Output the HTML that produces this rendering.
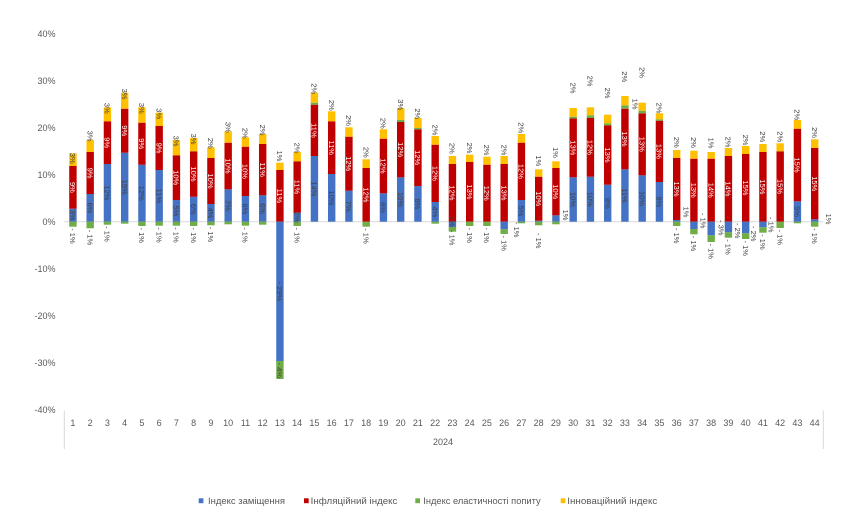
<!DOCTYPE html>
<html><head><meta charset="utf-8"><style>
html,body{margin:0;padding:0;background:#fff;}
svg{display:block;font-family:"Liberation Sans",Arial,sans-serif;}
.b{fill:#4472C4}.r{fill:#C00000}.g{fill:#70AD47}.y{fill:#FFC000}
.ax{font-size:9px;fill:#595959}
.l{font-size:7.5px;fill:#404040}
.w{font-size:7.5px;fill:#fff}
</style></head><body>
<svg width="850" height="517" viewBox="0 0 850 517" xmlns="http://www.w3.org/2000/svg">
<rect width="850" height="517" fill="#fff"/>
<!-- y axis labels -->
<g class="ax" text-anchor="end">
<text x="55.5" y="36.9">40%</text>
<text x="55.5" y="84">30%</text>
<text x="55.5" y="131">20%</text>
<text x="55.5" y="178.1">10%</text>
<text x="55.5" y="224.9">0%</text>
<text x="55.5" y="272">-10%</text>
<text x="55.5" y="319">-20%</text>
<text x="55.5" y="366.1">-30%</text>
<text x="55.5" y="413.2">-40%</text>
</g>
<line x1="64.3" y1="221.7" x2="823.3" y2="221.7" stroke="#D9D9D9" stroke-width="1"/>
<line x1="64.3" y1="410.7" x2="64.3" y2="449" stroke="#D9D9D9" stroke-width="1"/>
<line x1="823.3" y1="410.7" x2="823.3" y2="449" stroke="#D9D9D9" stroke-width="1"/>

<!-- bars -->
<g transform="translate(72.93,0)"><rect class="b" x="-3.7" y="208.7" width="7.4" height="13"/><rect class="r" x="-3.7" y="166" width="7.4" height="42.7"/><rect class="y" x="-3.7" y="153.3" width="7.4" height="12.7"/><rect class="g" x="-3.7" y="221.7" width="7.4" height="5"/>
<text class="l" transform="translate(0,215.2) rotate(90)" text-anchor="middle" dy="2.7">3%</text><text class="w" transform="translate(0,187.4) rotate(90)" text-anchor="middle" dy="2.7">9%</text><text class="l" transform="translate(0,158.3) rotate(90)" text-anchor="middle" dy="2.7">3%</text><text class="l" transform="translate(0,228.2) rotate(90)" dy="2.7">- 1%</text></g>

<g transform="translate(90.18,0)"><rect class="b" x="-3.7" y="194" width="7.4" height="27.7"/><rect class="r" x="-3.7" y="152" width="7.4" height="42"/><rect class="y" x="-3.7" y="140" width="7.4" height="12"/><rect class="g" x="-3.7" y="221.7" width="7.4" height="6.6"/>
<text class="l" transform="translate(0,207.9) rotate(90)" text-anchor="middle" dy="2.7">6%</text><text class="w" transform="translate(0,173) rotate(90)" text-anchor="middle" dy="2.7">9%</text><text class="l" transform="translate(0,136) rotate(90)" text-anchor="middle" dy="2.7">3%</text><text class="l" transform="translate(0,229.8) rotate(90)" dy="2.7">- 1%</text></g>

<g transform="translate(107.43,0)"><rect class="b" x="-3.7" y="164" width="7.4" height="57.7"/><rect class="r" x="-3.7" y="121.3" width="7.4" height="42.7"/><rect class="y" x="-3.7" y="107.3" width="7.4" height="14"/><rect class="g" x="-3.7" y="221.7" width="7.4" height="3"/>
<text class="l" transform="translate(0,192.9) rotate(90)" text-anchor="middle" dy="2.7">12%</text><text class="w" transform="translate(0,142.7) rotate(90)" text-anchor="middle" dy="2.7">9%</text><text class="l" transform="translate(0,108.3) rotate(90)" text-anchor="middle" dy="2.7">3%</text><text class="l" transform="translate(0,226.2) rotate(90)" dy="2.7">- 1%</text></g>

<g transform="translate(124.68,0)"><rect class="b" x="-3.7" y="152.7" width="7.4" height="69"/><rect class="r" x="-3.7" y="108.7" width="7.4" height="44"/><rect class="y" x="-3.7" y="92.7" width="7.4" height="16"/><rect class="g" x="-3.7" y="221.7" width="7.4" height="2"/>
<text class="l" transform="translate(0,187.2) rotate(90)" text-anchor="middle" dy="2.7">15%</text><text class="w" transform="translate(0,130.7) rotate(90)" text-anchor="middle" dy="2.7">9%</text><text class="l" transform="translate(0,94) rotate(90)" text-anchor="middle" dy="2.7">3%</text></g>

<g transform="translate(141.93,0)"><rect class="b" x="-3.7" y="164.7" width="7.4" height="57"/><rect class="r" x="-3.7" y="122.7" width="7.4" height="42"/><rect class="y" x="-3.7" y="107.3" width="7.4" height="15.4"/><rect class="g" x="-3.7" y="221.7" width="7.4" height="4.3"/>
<text class="l" transform="translate(0,193.2) rotate(90)" text-anchor="middle" dy="2.7">12%</text><text class="w" transform="translate(0,143.7) rotate(90)" text-anchor="middle" dy="2.7">9%</text><text class="l" transform="translate(0,108.3) rotate(90)" text-anchor="middle" dy="2.7">3%</text><text class="l" transform="translate(0,227.5) rotate(90)" dy="2.7">- 1%</text></g>

<g transform="translate(159.18,0)"><rect class="b" x="-3.7" y="170" width="7.4" height="51.7"/><rect class="r" x="-3.7" y="126" width="7.4" height="44"/><rect class="y" x="-3.7" y="112.7" width="7.4" height="13.3"/><rect class="g" x="-3.7" y="221.7" width="7.4" height="4"/>
<text class="l" transform="translate(0,195.9) rotate(90)" text-anchor="middle" dy="2.7">11%</text><text class="w" transform="translate(0,148) rotate(90)" text-anchor="middle" dy="2.7">9%</text><text class="l" transform="translate(0,113.7) rotate(90)" text-anchor="middle" dy="2.7">3%</text><text class="l" transform="translate(0,227.2) rotate(90)" dy="2.7">- 1%</text></g>

<g transform="translate(176.43,0)"><rect class="b" x="-3.7" y="200" width="7.4" height="21.7"/><rect class="r" x="-3.7" y="155.3" width="7.4" height="44.7"/><rect class="y" x="-3.7" y="140" width="7.4" height="15.3"/><rect class="g" x="-3.7" y="221.7" width="7.4" height="4"/>
<text class="l" transform="translate(0,210.9) rotate(90)" text-anchor="middle" dy="2.7">5%</text><text class="w" transform="translate(0,177.7) rotate(90)" text-anchor="middle" dy="2.7">10%</text><text class="l" transform="translate(0,141) rotate(90)" text-anchor="middle" dy="2.7">3%</text><text class="l" transform="translate(0,227.2) rotate(90)" dy="2.7">- 1%</text></g>

<g transform="translate(193.68,0)"><rect class="b" x="-3.7" y="196.7" width="7.4" height="25"/><rect class="r" x="-3.7" y="151.3" width="7.4" height="45.4"/><rect class="y" x="-3.7" y="138" width="7.4" height="13.3"/><rect class="g" x="-3.7" y="221.7" width="7.4" height="4.3"/>
<text class="l" transform="translate(0,209.2) rotate(90)" text-anchor="middle" dy="2.7">6%</text><text class="w" transform="translate(0,174) rotate(90)" text-anchor="middle" dy="2.7">10%</text><text class="l" transform="translate(0,139) rotate(90)" text-anchor="middle" dy="2.7">3%</text><text class="l" transform="translate(0,227.5) rotate(90)" dy="2.7">- 1%</text></g>

<g transform="translate(210.93,0)"><rect class="b" x="-3.7" y="204" width="7.4" height="17.7"/><rect class="r" x="-3.7" y="158" width="7.4" height="46"/><rect class="y" x="-3.7" y="147.3" width="7.4" height="10.7"/><rect class="g" x="-3.7" y="221.7" width="7.4" height="3.6"/>
<text class="l" transform="translate(0,212.9) rotate(90)" text-anchor="middle" dy="2.7">4%</text><text class="w" transform="translate(0,181) rotate(90)" text-anchor="middle" dy="2.7">10%</text><text class="l" transform="translate(0,143.3) rotate(90)" text-anchor="middle" dy="2.7">2%</text><text class="l" transform="translate(0,226.8) rotate(90)" dy="2.7">- 1%</text></g>

<g transform="translate(228.18,0)"><rect class="b" x="-3.7" y="189.3" width="7.4" height="32.4"/><rect class="r" x="-3.7" y="142.7" width="7.4" height="46.6"/><rect class="y" x="-3.7" y="131.3" width="7.4" height="11.4"/><rect class="g" x="-3.7" y="221.7" width="7.4" height="2.6"/>
<text class="l" transform="translate(0,205.5) rotate(90)" text-anchor="middle" dy="2.7">7%</text><text class="w" transform="translate(0,166) rotate(90)" text-anchor="middle" dy="2.7">10%</text><text class="l" transform="translate(0,127.3) rotate(90)" text-anchor="middle" dy="2.7">3%</text></g>

<g transform="translate(245.43,0)"><rect class="b" x="-3.7" y="196" width="7.4" height="25.7"/><rect class="r" x="-3.7" y="146.7" width="7.4" height="49.3"/><rect class="y" x="-3.7" y="137.3" width="7.4" height="9.4"/><rect class="g" x="-3.7" y="221.7" width="7.4" height="4"/>
<text class="l" transform="translate(0,208.9) rotate(90)" text-anchor="middle" dy="2.7">6%</text><text class="w" transform="translate(0,171.4) rotate(90)" text-anchor="middle" dy="2.7">10%</text><text class="l" transform="translate(0,133.3) rotate(90)" text-anchor="middle" dy="2.7">2%</text><text class="l" transform="translate(0,227.2) rotate(90)" dy="2.7">- 1%</text></g>

<g transform="translate(262.68,0)"><rect class="b" x="-3.7" y="195.3" width="7.4" height="26.4"/><rect class="r" x="-3.7" y="144" width="7.4" height="51.3"/><rect class="y" x="-3.7" y="134" width="7.4" height="10"/><rect class="g" x="-3.7" y="221.7" width="7.4" height="3"/>
<text class="l" transform="translate(0,208.5) rotate(90)" text-anchor="middle" dy="2.7">6%</text><text class="w" transform="translate(0,169.7) rotate(90)" text-anchor="middle" dy="2.7">11%</text><text class="l" transform="translate(0,130) rotate(90)" text-anchor="middle" dy="2.7">2%</text></g>

<g transform="translate(279.93,0)"><rect class="r" x="-3.7" y="170" width="7.4" height="51.7"/><rect class="y" x="-3.7" y="162.7" width="7.4" height="7.3"/><rect class="b" x="-3.7" y="221.7" width="7.4" height="139.3"/><rect class="g" x="-3.7" y="361" width="7.4" height="18"/>
<text class="w" transform="translate(0,195.9) rotate(90)" text-anchor="middle" dy="2.7">11%</text><text class="l" transform="translate(0,156) rotate(90)" text-anchor="middle" dy="2.7">1%</text><text class="l" transform="translate(0,291.4) rotate(90)" text-anchor="middle" dy="2.7">- 29%</text><text class="l" transform="translate(0,362.5) rotate(90)" dy="2.7">- 4%</text></g>

<g transform="translate(297.18,0)"><rect class="b" x="-3.7" y="212.7" width="7.4" height="9"/><rect class="r" x="-3.7" y="161.3" width="7.4" height="51.4"/><rect class="y" x="-3.7" y="152" width="7.4" height="9.3"/><rect class="g" x="-3.7" y="221.7" width="7.4" height="4.3"/>
<text class="l" transform="translate(0,217.2) rotate(90)" text-anchor="middle" dy="2.7">2%</text><text class="w" transform="translate(0,187) rotate(90)" text-anchor="middle" dy="2.7">11%</text><text class="l" transform="translate(0,148) rotate(90)" text-anchor="middle" dy="2.7">2%</text><text class="l" transform="translate(0,227.5) rotate(90)" dy="2.7">- 1%</text></g>

<g transform="translate(314.43,0)"><rect class="b" x="-3.7" y="156" width="7.4" height="65.7"/><rect class="r" x="-3.7" y="104.7" width="7.4" height="51.3"/><rect class="g" x="-3.7" y="102.7" width="7.4" height="2"/><rect class="y" x="-3.7" y="92.7" width="7.4" height="10"/>
<text class="l" transform="translate(0,188.9) rotate(90)" text-anchor="middle" dy="2.7">14%</text><text class="w" transform="translate(0,130.4) rotate(90)" text-anchor="middle" dy="2.7">11%</text><text class="l" transform="translate(0,88.7) rotate(90)" text-anchor="middle" dy="2.7">2%</text></g>

<g transform="translate(331.68,0)"><rect class="b" x="-3.7" y="174" width="7.4" height="47.7"/><rect class="r" x="-3.7" y="121.3" width="7.4" height="52.7"/><rect class="y" x="-3.7" y="111.3" width="7.4" height="10"/>
<text class="l" transform="translate(0,197.9) rotate(90)" text-anchor="middle" dy="2.7">10%</text><text class="w" transform="translate(0,147.7) rotate(90)" text-anchor="middle" dy="2.7">11%</text><text class="l" transform="translate(0,105.3) rotate(90)" text-anchor="middle" dy="2.7">2%</text></g>

<g transform="translate(348.93,0)"><rect class="b" x="-3.7" y="190.7" width="7.4" height="31"/><rect class="r" x="-3.7" y="136.7" width="7.4" height="54"/><rect class="y" x="-3.7" y="127.3" width="7.4" height="9.4"/>
<text class="l" transform="translate(0,206.2) rotate(90)" text-anchor="middle" dy="2.7">7%</text><text class="w" transform="translate(0,163.7) rotate(90)" text-anchor="middle" dy="2.7">12%</text><text class="l" transform="translate(0,120.5) rotate(90)" text-anchor="middle" dy="2.7">2%</text></g>

<g transform="translate(366.18,0)"><rect class="r" x="-3.7" y="168" width="7.4" height="53.7"/><rect class="y" x="-3.7" y="159.3" width="7.4" height="8.7"/><rect class="g" x="-3.7" y="221.7" width="7.4" height="5"/>
<text class="w" transform="translate(0,194.9) rotate(90)" text-anchor="middle" dy="2.7">12%</text><text class="l" transform="translate(0,152.3) rotate(90)" text-anchor="middle" dy="2.7">2%</text><text class="l" transform="translate(0,228.2) rotate(90)" dy="2.7">- 1%</text></g>

<g transform="translate(383.43,0)"><rect class="b" x="-3.7" y="193.3" width="7.4" height="28.4"/><rect class="r" x="-3.7" y="138.7" width="7.4" height="54.6"/><rect class="y" x="-3.7" y="129.3" width="7.4" height="9.4"/>
<text class="l" transform="translate(0,207.5) rotate(90)" text-anchor="middle" dy="2.7">6%</text><text class="w" transform="translate(0,166) rotate(90)" text-anchor="middle" dy="2.7">12%</text><text class="l" transform="translate(0,123.3) rotate(90)" text-anchor="middle" dy="2.7">2%</text></g>

<g transform="translate(400.68,0)"><rect class="b" x="-3.7" y="177.3" width="7.4" height="44.4"/><rect class="r" x="-3.7" y="122" width="7.4" height="55.3"/><rect class="g" x="-3.7" y="120" width="7.4" height="2"/><rect class="y" x="-3.7" y="108" width="7.4" height="12"/>
<text class="l" transform="translate(0,199.5) rotate(90)" text-anchor="middle" dy="2.7">10%</text><text class="w" transform="translate(0,149.6) rotate(90)" text-anchor="middle" dy="2.7">12%</text><text class="l" transform="translate(0,104.7) rotate(90)" text-anchor="middle" dy="2.7">3%</text></g>

<g transform="translate(417.93,0)"><rect class="b" x="-3.7" y="186" width="7.4" height="35.7"/><rect class="r" x="-3.7" y="129.3" width="7.4" height="56.7"/><rect class="g" x="-3.7" y="128" width="7.4" height="1.3"/><rect class="y" x="-3.7" y="118" width="7.4" height="10"/>
<text class="l" transform="translate(0,203.9) rotate(90)" text-anchor="middle" dy="2.7">8%</text><text class="w" transform="translate(0,157.7) rotate(90)" text-anchor="middle" dy="2.7">12%</text><text class="l" transform="translate(0,113.8) rotate(90)" text-anchor="middle" dy="2.7">2%</text></g>

<g transform="translate(435.18,0)"><rect class="b" x="-3.7" y="202" width="7.4" height="19.7"/><rect class="r" x="-3.7" y="144.7" width="7.4" height="57.3"/><rect class="y" x="-3.7" y="136" width="7.4" height="8.7"/><rect class="g" x="-3.7" y="221.7" width="7.4" height="2"/>
<text class="l" transform="translate(0,211.9) rotate(90)" text-anchor="middle" dy="2.7">4%</text><text class="w" transform="translate(0,173.4) rotate(90)" text-anchor="middle" dy="2.7">12%</text><text class="l" transform="translate(0,130) rotate(90)" text-anchor="middle" dy="2.7">2%</text></g>

<g transform="translate(452.43,0)"><rect class="r" x="-3.7" y="164" width="7.4" height="57.7"/><rect class="y" x="-3.7" y="156" width="7.4" height="8"/><rect class="b" x="-3.7" y="221.7" width="7.4" height="5.3"/><rect class="g" x="-3.7" y="227" width="7.4" height="4.7"/>
<text class="w" transform="translate(0,192.9) rotate(90)" text-anchor="middle" dy="2.7">12%</text><text class="l" transform="translate(0,148.3) rotate(90)" text-anchor="middle" dy="2.7">2%</text><text class="l" transform="translate(0,216) rotate(90)" dy="2.7">1%</text><text class="l" transform="translate(0,230) rotate(90)" dy="2.7">- 1%</text></g>

<g transform="translate(469.68,0)"><rect class="r" x="-3.7" y="162" width="7.4" height="59.7"/><rect class="y" x="-3.7" y="154.7" width="7.4" height="7.3"/><rect class="g" x="-3.7" y="221.7" width="7.4" height="4.3"/>
<text class="w" transform="translate(0,191.9) rotate(90)" text-anchor="middle" dy="2.7">13%</text><text class="l" transform="translate(0,148) rotate(90)" text-anchor="middle" dy="2.7">2%</text><text class="l" transform="translate(0,227.5) rotate(90)" dy="2.7">- 1%</text></g>

<g transform="translate(486.93,0)"><rect class="r" x="-3.7" y="164.7" width="7.4" height="57"/><rect class="y" x="-3.7" y="156.7" width="7.4" height="8"/><rect class="g" x="-3.7" y="221.7" width="7.4" height="4.3"/>
<text class="w" transform="translate(0,193.2) rotate(90)" text-anchor="middle" dy="2.7">12%</text><text class="l" transform="translate(0,150) rotate(90)" text-anchor="middle" dy="2.7">2%</text><text class="l" transform="translate(0,227.5) rotate(90)" dy="2.7">- 1%</text></g>

<g transform="translate(504.18,0)"><rect class="r" x="-3.7" y="164" width="7.4" height="57.7"/><rect class="y" x="-3.7" y="156" width="7.4" height="8"/><rect class="b" x="-3.7" y="221.7" width="7.4" height="7.6"/><rect class="g" x="-3.7" y="229.3" width="7.4" height="4.7"/>
<text class="w" transform="translate(0,192.9) rotate(90)" text-anchor="middle" dy="2.7">13%</text><text class="l" transform="translate(0,150) rotate(90)" text-anchor="middle" dy="2.7">2%</text><text class="l" transform="translate(0,235.5) rotate(90)" dy="2.7">- 1%</text></g>

<g transform="translate(521.43,0)"><rect class="b" x="-3.7" y="200" width="7.4" height="21.7"/><rect class="r" x="-3.7" y="142.7" width="7.4" height="57.3"/><rect class="y" x="-3.7" y="134" width="7.4" height="8.7"/><rect class="g" x="-3.7" y="221.7" width="7.4" height="1.6"/>
<text class="l" transform="translate(0,210.9) rotate(90)" text-anchor="middle" dy="2.7">5%</text><text class="w" transform="translate(0,171.4) rotate(90)" text-anchor="middle" dy="2.7">12%</text><text class="l" transform="translate(0,127.7) rotate(90)" text-anchor="middle" dy="2.7">2%</text><text class="l" transform="translate(-4.5,222) rotate(90)" dy="2.7">- 1%</text></g>

<g transform="translate(538.68,0)"><rect class="b" x="-3.7" y="220.7" width="7.4" height="1"/><rect class="r" x="-3.7" y="176.7" width="7.4" height="44"/><rect class="y" x="-3.7" y="169.3" width="7.4" height="7.4"/><rect class="g" x="-3.7" y="221.7" width="7.4" height="3.6"/>
<text class="w" transform="translate(0,198.7) rotate(90)" text-anchor="middle" dy="2.7">10%</text><text class="l" transform="translate(0,160.8) rotate(90)" text-anchor="middle" dy="2.7">1%</text><text class="l" transform="translate(0,233) rotate(90)" dy="2.7">- 1%</text></g>

<g transform="translate(555.93,0)"><rect class="b" x="-3.7" y="215.3" width="7.4" height="6.4"/><rect class="r" x="-3.7" y="168" width="7.4" height="47.3"/><rect class="y" x="-3.7" y="161.3" width="7.4" height="6.7"/><rect class="g" x="-3.7" y="221.7" width="7.4" height="2.6"/>
<text class="w" transform="translate(0,191.7) rotate(90)" text-anchor="middle" dy="2.7">10%</text><text class="l" transform="translate(0,152.5) rotate(90)" text-anchor="middle" dy="2.7">1%</text><text class="l" transform="translate(9.6,215) rotate(90)" text-anchor="middle" dy="2.7">1%</text></g>

<g transform="translate(573.18,0)"><rect class="b" x="-3.7" y="177.3" width="7.4" height="44.4"/><rect class="r" x="-3.7" y="118.3" width="7.4" height="59"/><rect class="g" x="-3.7" y="116.7" width="7.4" height="1.6"/><rect class="y" x="-3.7" y="108" width="7.4" height="8.7"/>
<text class="l" transform="translate(0,199.5) rotate(90)" text-anchor="middle" dy="2.7">10%</text><text class="w" transform="translate(0,147.8) rotate(90)" text-anchor="middle" dy="2.7">13%</text><text class="l" transform="translate(0,88) rotate(90)" text-anchor="middle" dy="2.7">2%</text></g>

<g transform="translate(590.43,0)"><rect class="b" x="-3.7" y="176.7" width="7.4" height="45"/><rect class="r" x="-3.7" y="118" width="7.4" height="58.7"/><rect class="g" x="-3.7" y="115.3" width="7.4" height="2.7"/><rect class="y" x="-3.7" y="107.3" width="7.4" height="8"/>
<text class="l" transform="translate(0,199.2) rotate(90)" text-anchor="middle" dy="2.7">10%</text><text class="w" transform="translate(0,147.4) rotate(90)" text-anchor="middle" dy="2.7">12%</text><text class="l" transform="translate(0,81) rotate(90)" text-anchor="middle" dy="2.7">2%</text></g>

<g transform="translate(607.68,0)"><rect class="b" x="-3.7" y="184.7" width="7.4" height="37"/><rect class="r" x="-3.7" y="125.3" width="7.4" height="59.4"/><rect class="g" x="-3.7" y="123.3" width="7.4" height="2"/><rect class="y" x="-3.7" y="114.7" width="7.4" height="8.6"/>
<text class="l" transform="translate(0,203.2) rotate(90)" text-anchor="middle" dy="2.7">8%</text><text class="w" transform="translate(0,155) rotate(90)" text-anchor="middle" dy="2.7">13%</text><text class="l" transform="translate(0,93) rotate(90)" text-anchor="middle" dy="2.7">2%</text></g>

<g transform="translate(624.93,0)"><rect class="b" x="-3.7" y="169.3" width="7.4" height="52.4"/><rect class="r" x="-3.7" y="108.7" width="7.4" height="60.6"/><rect class="g" x="-3.7" y="105.3" width="7.4" height="3.4"/><rect class="y" x="-3.7" y="96" width="7.4" height="9.3"/>
<text class="l" transform="translate(0,195.5) rotate(90)" text-anchor="middle" dy="2.7">11%</text><text class="w" transform="translate(0,139) rotate(90)" text-anchor="middle" dy="2.7">13%</text><text class="l" transform="translate(0,76.7) rotate(90)" text-anchor="middle" dy="2.7">2%</text></g>

<g transform="translate(642.18,0)"><rect class="b" x="-3.7" y="175.3" width="7.4" height="46.4"/><rect class="r" x="-3.7" y="113.3" width="7.4" height="62"/><rect class="g" x="-3.7" y="110.7" width="7.4" height="2.6"/><rect class="y" x="-3.7" y="102.7" width="7.4" height="8"/>
<text class="l" transform="translate(0,198.5) rotate(90)" text-anchor="middle" dy="2.7">10%</text><text class="w" transform="translate(0,144.3) rotate(90)" text-anchor="middle" dy="2.7">13%</text><text class="l" transform="translate(0,72.5) rotate(90)" text-anchor="middle" dy="2.7">2%</text><text class="l" transform="translate(-7,104) rotate(90)" text-anchor="middle" dy="2.7">1%</text></g>

<g transform="translate(659.43,0)"><rect class="b" x="-3.7" y="182" width="7.4" height="39.7"/><rect class="r" x="-3.7" y="120.7" width="7.4" height="61.3"/><rect class="g" x="-3.7" y="119.3" width="7.4" height="1.4"/><rect class="y" x="-3.7" y="113.3" width="7.4" height="6"/>
<text class="l" transform="translate(0,201.9) rotate(90)" text-anchor="middle" dy="2.7">8%</text><text class="w" transform="translate(0,151.4) rotate(90)" text-anchor="middle" dy="2.7">13%</text><text class="l" transform="translate(0,108) rotate(90)" text-anchor="middle" dy="2.7">2%</text></g>

<g transform="translate(676.68,0)"><rect class="b" x="-3.7" y="220" width="7.4" height="1.7"/><rect class="r" x="-3.7" y="158" width="7.4" height="62"/><rect class="y" x="-3.7" y="150" width="7.4" height="8"/><rect class="g" x="-3.7" y="221.7" width="7.4" height="4.3"/>
<text class="w" transform="translate(0,189) rotate(90)" text-anchor="middle" dy="2.7">13%</text><text class="l" transform="translate(0,142.3) rotate(90)" text-anchor="middle" dy="2.7">2%</text><text class="l" transform="translate(0,228) rotate(90)" dy="2.7">- 1%</text><text class="l" transform="translate(9.5,212) rotate(90)" text-anchor="middle" dy="2.7">1%</text></g>

<g transform="translate(693.93,0)"><rect class="r" x="-3.7" y="158.7" width="7.4" height="63"/><rect class="y" x="-3.7" y="150.7" width="7.4" height="8"/><rect class="b" x="-3.7" y="221.7" width="7.4" height="7.3"/><rect class="g" x="-3.7" y="229" width="7.4" height="5.3"/>
<text class="w" transform="translate(0,190.2) rotate(90)" text-anchor="middle" dy="2.7">13%</text><text class="l" transform="translate(0,142.5) rotate(90)" text-anchor="middle" dy="2.7">2%</text><text class="l" transform="translate(0,235.8) rotate(90)" dy="2.7">- 1%</text></g>

<g transform="translate(711.18,0)"><rect class="r" x="-3.7" y="158.7" width="7.4" height="63"/><rect class="y" x="-3.7" y="152" width="7.4" height="6.7"/><rect class="b" x="-3.7" y="221.7" width="7.4" height="13.6"/><rect class="g" x="-3.7" y="235.3" width="7.4" height="6.7"/>
<text class="w" transform="translate(0,190.2) rotate(90)" text-anchor="middle" dy="2.7">14%</text><text class="l" transform="translate(0,143) rotate(90)" text-anchor="middle" dy="2.7">1%</text><text class="l" transform="translate(0,243.5) rotate(90)" dy="2.7">- 1%</text><text class="l" transform="translate(-8,213) rotate(90)" dy="2.7">- 1%</text></g>

<g transform="translate(728.43,0)"><rect class="r" x="-3.7" y="156" width="7.4" height="65.7"/><rect class="y" x="-3.7" y="148" width="7.4" height="8"/><rect class="b" x="-3.7" y="221.7" width="7.4" height="10.6"/><rect class="g" x="-3.7" y="232.3" width="7.4" height="5.4"/>
<text class="w" transform="translate(0,188.9) rotate(90)" text-anchor="middle" dy="2.7">14%</text><text class="l" transform="translate(0,142) rotate(90)" text-anchor="middle" dy="2.7">2%</text><text class="l" transform="translate(0,239.2) rotate(90)" dy="2.7">- 1%</text><text class="l" transform="translate(-7,220) rotate(90)" dy="2.7">- 3%</text></g>

<g transform="translate(745.68,0)"><rect class="r" x="-3.7" y="154" width="7.4" height="67.7"/><rect class="y" x="-3.7" y="146" width="7.4" height="8"/><rect class="b" x="-3.7" y="221.7" width="7.4" height="11.6"/><rect class="g" x="-3.7" y="233.3" width="7.4" height="5.7"/>
<text class="w" transform="translate(0,187.9) rotate(90)" text-anchor="middle" dy="2.7">15%</text><text class="l" transform="translate(0,140) rotate(90)" text-anchor="middle" dy="2.7">2%</text><text class="l" transform="translate(0,240.5) rotate(90)" dy="2.7">- 1%</text><text class="l" transform="translate(-8,223) rotate(90)" dy="2.7">- 2%</text></g>

<g transform="translate(762.93,0)"><rect class="r" x="-3.7" y="152" width="7.4" height="69.7"/><rect class="y" x="-3.7" y="144" width="7.4" height="8"/><rect class="b" x="-3.7" y="221.7" width="7.4" height="5.6"/><rect class="g" x="-3.7" y="227.3" width="7.4" height="5.4"/>
<text class="w" transform="translate(0,186.9) rotate(90)" text-anchor="middle" dy="2.7">15%</text><text class="l" transform="translate(0,136.7) rotate(90)" text-anchor="middle" dy="2.7">2%</text><text class="l" transform="translate(0,234.2) rotate(90)" dy="2.7">- 1%</text><text class="l" transform="translate(-9,226) rotate(90)" dy="2.7">- 2%</text></g>

<g transform="translate(780.18,0)"><rect class="r" x="-3.7" y="151.3" width="7.4" height="70.4"/><rect class="y" x="-3.7" y="143.3" width="7.4" height="8"/><rect class="g" x="-3.7" y="221.7" width="7.4" height="6.3"/>
<text class="w" transform="translate(0,186.5) rotate(90)" text-anchor="middle" dy="2.7">15%</text><text class="l" transform="translate(0,136.7) rotate(90)" text-anchor="middle" dy="2.7">2%</text><text class="l" transform="translate(0,229.5) rotate(90)" dy="2.7">- 1%</text><text class="l" transform="translate(-9,217) rotate(90)" dy="2.7">- 1%</text></g>

<g transform="translate(797.43,0)"><rect class="b" x="-3.7" y="201.3" width="7.4" height="20.4"/><rect class="r" x="-3.7" y="128.7" width="7.4" height="72.6"/><rect class="y" x="-3.7" y="120" width="7.4" height="8.7"/><rect class="g" x="-3.7" y="221.7" width="7.4" height="1.6"/>
<text class="l" transform="translate(0,211.5) rotate(90)" text-anchor="middle" dy="2.7">5%</text><text class="w" transform="translate(0,165) rotate(90)" text-anchor="middle" dy="2.7">15%</text><text class="l" transform="translate(0,114.7) rotate(90)" text-anchor="middle" dy="2.7">2%</text></g>

<g transform="translate(814.68,0)"><rect class="b" x="-3.7" y="219.3" width="7.4" height="2.4"/><rect class="r" x="-3.7" y="148" width="7.4" height="71.3"/><rect class="y" x="-3.7" y="139.3" width="7.4" height="8.7"/><rect class="g" x="-3.7" y="221.7" width="7.4" height="5"/>
<text class="w" transform="translate(0,183.7) rotate(90)" text-anchor="middle" dy="2.7">15%</text><text class="l" transform="translate(0,132.5) rotate(90)" text-anchor="middle" dy="2.7">2%</text><text class="l" transform="translate(0,228.2) rotate(90)" dy="2.7">- 1%</text><text class="l" transform="translate(14,219) rotate(90)" text-anchor="middle" dy="2.7">1%</text></g>

<!-- category labels -->
<g class="ax" text-anchor="middle">
<text x="72.93" y="426.2">1</text><text x="90.18" y="426.2">2</text><text x="107.43" y="426.2">3</text><text x="124.68" y="426.2">4</text><text x="141.93" y="426.2">5</text><text x="159.18" y="426.2">6</text><text x="176.43" y="426.2">7</text><text x="193.68" y="426.2">8</text><text x="210.93" y="426.2">9</text><text x="228.18" y="426.2">10</text><text x="245.43" y="426.2">11</text><text x="262.68" y="426.2">12</text><text x="279.93" y="426.2">13</text><text x="297.18" y="426.2">14</text><text x="314.43" y="426.2">15</text><text x="331.68" y="426.2">16</text><text x="348.93" y="426.2">17</text><text x="366.18" y="426.2">18</text><text x="383.43" y="426.2">19</text><text x="400.68" y="426.2">20</text><text x="417.93" y="426.2">21</text><text x="435.18" y="426.2">22</text><text x="452.43" y="426.2">23</text><text x="469.68" y="426.2">24</text><text x="486.93" y="426.2">25</text><text x="504.18" y="426.2">26</text><text x="521.43" y="426.2">27</text><text x="538.68" y="426.2">28</text><text x="555.93" y="426.2">29</text><text x="573.18" y="426.2">30</text><text x="590.43" y="426.2">31</text><text x="607.68" y="426.2">32</text><text x="624.93" y="426.2">33</text><text x="642.18" y="426.2">34</text><text x="659.43" y="426.2">35</text><text x="676.68" y="426.2">36</text><text x="693.93" y="426.2">37</text><text x="711.18" y="426.2">38</text><text x="728.43" y="426.2">39</text><text x="745.68" y="426.2">40</text><text x="762.93" y="426.2">41</text><text x="780.18" y="426.2">42</text><text x="797.43" y="426.2">43</text><text x="814.68" y="426.2">44</text>
<text x="443" y="445.2">2024</text>
</g>

<!-- legend -->
<g class="ax">
<rect x="198.7" y="498.3" width="4.7" height="4.9" fill="#4472C4"/>
<text x="208" y="503.8" textLength="77" lengthAdjust="spacingAndGlyphs">Індекс заміщення</text>
<rect x="304" y="498.3" width="4.7" height="4.9" fill="#C00000"/>
<text x="310.7" y="503.8" textLength="86.7" lengthAdjust="spacingAndGlyphs">Інфляційний індекс</text>
<rect x="415.3" y="498.3" width="4.7" height="4.9" fill="#70AD47"/>
<text x="423.3" y="503.8" textLength="117.3" lengthAdjust="spacingAndGlyphs">Індекс еластичності попиту</text>
<rect x="560.7" y="498.3" width="4.7" height="4.9" fill="#FFC000"/>
<text x="567.3" y="503.8" textLength="90" lengthAdjust="spacingAndGlyphs">Інноваційний індекс</text>
</g>
</svg>
</body></html>
